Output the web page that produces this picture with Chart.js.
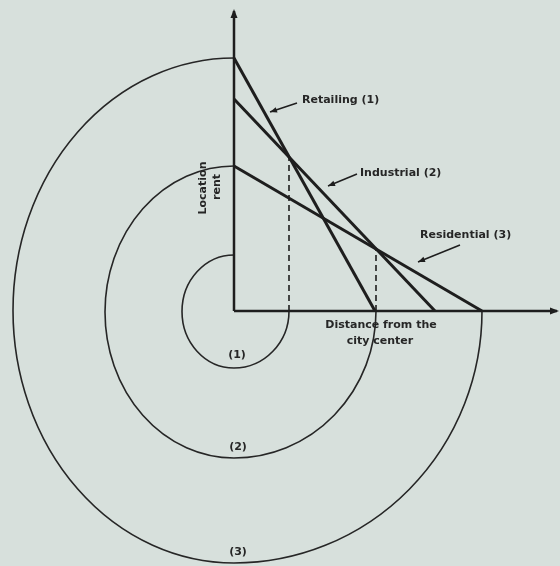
<!DOCTYPE html>
<html>
<head>
<meta charset="utf-8">
<script src="https://cdn.jsdelivr.net/npm/chart.js@4"></script>
<style>
    html, body { margin: 0; padding: 0; background: #d7e0dc; }
    canvas { display: block; }
</style>
</head>
<body>
<canvas id="rentChart" width="560" height="566"></canvas>
<script>
// bid-rent lines: rent at the centre, distance where rent falls to zero
const zones = ["Retailing (1)", "Industrial (2)", "Residential (3)"];
const rentAtCenter = [253, 212, 145];
const distanceAtZeroRent = [141, 201, 248];

// dashed drop lines at the zone boundaries
const boundaryDistance = [55, 142];
const boundaryRent = [153, 62];

// rings (1) (2) (3), radius read in each direction
const ringLabels = ["(1)", "(2)", "(3)"];
const ringTop = [56, 145, 253];
const ringLeft = [52, 129, 221];
const ringBottom = [57, 147, 252];
const ringRight = [55, 142, 248];

const xAxisEnd = 323;
const yAxisEnd = 300;

const ink = "#1e1e1e";

function lineSet(points, width, dash) {
    return {
        data: points,
        showLine: true,
        borderColor: ink,
        borderWidth: width,
        borderDash: dash || [],
        pointRadius: 0,
        fill: false,
        tension: 0,
    };
}

const datasets = [];
datasets.push(lineSet([{ x: 0, y: 0 }, { x: 0, y: yAxisEnd }], 2.5));
datasets.push(lineSet([{ x: 0, y: 0 }, { x: xAxisEnd, y: 0 }], 2.5));
zones.forEach((z, i) => {
    datasets.push(lineSet([{ x: 0, y: rentAtCenter[i] }, { x: distanceAtZeroRent[i], y: 0 }], 3));
});
boundaryDistance.forEach((d, i) => {
    datasets.push(lineSet([{ x: d, y: 0 }, { x: d, y: boundaryRent[i] }], 1.6, [6, 4]));
});

function px(chart, x, y) {
    return [chart.scales.x.getPixelForValue(x), chart.scales.y.getPixelForValue(y)];
}

function arrowHead(ctx, x1, y1, x2, y2, len, half) {
    const a = Math.atan2(y2 - y1, x2 - x1);
    ctx.beginPath();
    ctx.moveTo(x2, y2);
    ctx.lineTo(x2 - len * Math.cos(a) + half * Math.sin(a), y2 - len * Math.sin(a) - half * Math.cos(a));
    ctx.lineTo(x2 - len * Math.cos(a) - half * Math.sin(a), y2 - len * Math.sin(a) + half * Math.cos(a));
    ctx.closePath();
    ctx.fill();
}

const paper = {
    id: "paper",
    beforeDraw(chart) {
        const ctx = chart.ctx;
        ctx.save();
        ctx.fillStyle = "#d7e0dc";
        ctx.fillRect(0, 0, chart.width, chart.height);
        ctx.restore();
    }
};

const rings = {
    id: "rings",
    beforeDatasetsDraw(chart) {
        const ctx = chart.ctx;
        const [cx, cy] = px(chart, 0, 0);
        const sx = Math.abs(chart.scales.x.getPixelForValue(1) - cx);
        const sy = Math.abs(chart.scales.y.getPixelForValue(1) - cy);
        ctx.save();
        ctx.strokeStyle = "#262626";
        ctx.lineWidth = 1.6;
        ringLabels.forEach((lab, i) => {
            ctx.beginPath();
            // top -> left -> bottom
            ctx.ellipse(cx, cy + (ringBottom[i] - ringTop[i]) * sy / 2, ringLeft[i] * sx,
                (ringTop[i] + ringBottom[i]) * sy / 2, 0, -Math.PI / 2, Math.PI / 2, true);
            ctx.stroke();
            ctx.beginPath();
            // bottom -> right
            ctx.ellipse(cx, cy, ringRight[i] * sx, ringBottom[i] * sy, 0, Math.PI / 2, 0, true);
            ctx.stroke();
        });
        ctx.restore();
    },
    afterDatasetsDraw(chart) {
        const ctx = chart.ctx;
        ctx.save();
        ctx.fillStyle = ink;

        // axis arrow heads
        let [ax, ay] = px(chart, 0, yAxisEnd);
        let [bx, by] = px(chart, 0, yAxisEnd - 10);
        arrowHead(ctx, bx, by, ax, ay - 2, 9, 3.5);
        [ax, ay] = px(chart, xAxisEnd, 0);
        [bx, by] = px(chart, xAxisEnd - 10, 0);
        arrowHead(ctx, bx, by, ax + 2, ay, 9, 3.5);

        // pointer arrows to the lines
        const pointers = [[63, 208, 36, 199], [123, 137, 94, 125], [226, 66, 184, 49]];
        ctx.strokeStyle = ink;
        ctx.lineWidth = 1.5;
        pointers.forEach(p => {
            const [x1, y1] = px(chart, p[0], p[1]);
            const [x2, y2] = px(chart, p[2], p[3]);
            ctx.beginPath();
            ctx.moveTo(x1, y1);
            ctx.lineTo(x2, y2);
            ctx.stroke();
            arrowHead(ctx, x1, y1, x2, y2, 7, 2.8);
        });

        ctx.font = "bold 11px 'DejaVu Sans'";
        ctx.fillStyle = "#262626";
        ctx.textBaseline = "middle";

        const zoneAnchors = [[68, 211], [126, 138], [186, 76]];
        ctx.textAlign = "left";
        zones.forEach((z, i) => {
            const [x, y] = px(chart, zoneAnchors[i][0], zoneAnchors[i][1]);
            ctx.fillText(z, x, y);
        });

        ctx.textAlign = "center";
        let [tx, ty] = px(chart, 147, -14);
        ctx.fillText("Distance from the", tx, ty);
        [tx, ty] = px(chart, 146, -30);
        ctx.fillText("city center", tx, ty);

        const ringAnchors = [[3, -44], [4, -136], [4, -241]];
        ringLabels.forEach((lab, i) => {
            const [x, y] = px(chart, ringAnchors[i][0], ringAnchors[i][1]);
            ctx.fillText(lab, x, y);
        });

        // rotated y axis title
        [tx, ty] = px(chart, -31, 123);
        ctx.save();
        ctx.translate(tx, ty);
        ctx.rotate(-Math.PI / 2);
        ctx.fillText("Location", 0, 0);
        ctx.restore();
        [tx, ty] = px(chart, -17, 124);
        ctx.save();
        ctx.translate(tx, ty);
        ctx.rotate(-Math.PI / 2);
        ctx.fillText("rent", 0, 0);
        ctx.restore();

        ctx.restore();
    }
};

new Chart(document.getElementById("rentChart"), {
    type: "scatter",
    data: { datasets: datasets },
    options: {
        responsive: false,
        animation: false,
        devicePixelRatio: 1,
        layout: { padding: 0 },
        clip: false,
        scales: {
            x: { type: "linear", min: -234, max: 326, display: false },
            y: { type: "linear", min: -255, max: 311, display: false },
        },
        plugins: {
            legend: { display: false },
            tooltip: { enabled: false },
        },
    },
    plugins: [paper, rings],
});
</script>
</body>
</html>
